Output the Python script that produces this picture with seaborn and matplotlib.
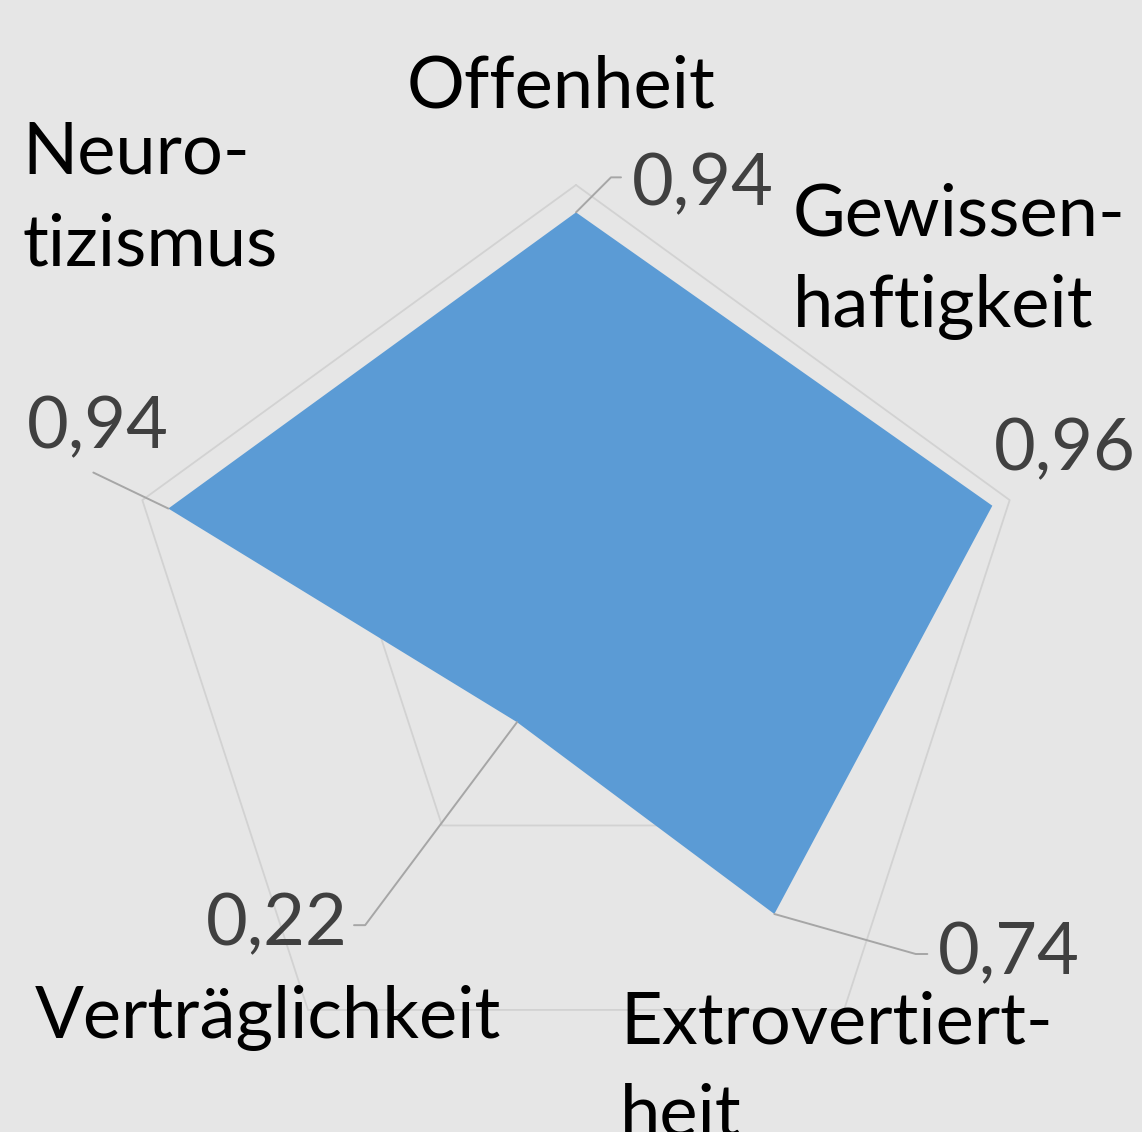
import numpy as np
import matplotlib
matplotlib.use("Agg")
import matplotlib.pyplot as plt
import seaborn as sns

# Daten
categories = ["Offenheit", "Gewissen-\nhaftigkeit", "Extrovertiert-\nheit",
              "Verträglichkeit", "Neuro-\ntizismus"]
values = [0.94, 0.96, 0.74, 0.22, 0.94]
grid_levels = [0.5, 1.0]

BG = "#e6e6e6"
FILL = "#5b9bd5"
GRID = "#d2d2d2"
LEADER = "#a6a6a6"
VALCOL = "#404040"

sns.set_theme(style="white", rc={"figure.facecolor": BG, "axes.facecolor": BG})
plt.rcParams["font.family"] = ["Lato", "DejaVu Sans"]

W, H = 1142, 1132
fig = plt.figure(figsize=(W / 100, H / 100), dpi=100)

# Achse: Zentrum (576, 641) px, Radius 456 px
cx, cy, R = 576, 641, 456
ax = fig.add_axes([(cx - R) / W, (H - cy - R) / H, 2 * R / W, 2 * R / H],
                  projection="polar")
ax.set_theta_offset(np.pi / 2)
ax.set_theta_direction(-1)
ax.set_ylim(0, 1)
ax.grid(False)
ax.spines["polar"].set_visible(False)
ax.set_xticks([])
ax.set_yticks([])
ax.patch.set_alpha(0)

n = len(values)
theta = np.linspace(0, 2 * np.pi, n, endpoint=False)
theta_c = np.append(theta, theta[0])

# Fünfeck-Gitter
for lvl in grid_levels:
    ax.plot(theta_c, [lvl] * (n + 1), color=GRID, lw=1.3, clip_on=False, zorder=1)

# Datenfläche
ax.fill(theta_c, values + values[:1], color=FILL, lw=0, zorder=2)

# Datenbeschriftungen (Text-Position in px, Ende der Führungslinie als Offset in px, Winkel)
fs = 52
val_text_px = [(703, 185), (1065, 450), (1009, 954), (277, 925), (98, 428)]
leader_end = [(45, 35), None, (153, -40), (-163, -203), (-75, 36)]
leader_ang = [45, None, -15.8, 53.2, None]

for i, v in enumerate(values):
    label = f"{v:.2f}".replace(".", ",")
    tx, ty = val_text_px[i]
    fig.text(tx / W, 1 - ty / H, label, ha="center", va="center",
             fontsize=fs, color=VALCOL)
    if leader_end[i] is not None:
        if leader_ang[i] is None:
            cs = "arc3"
        else:
            cs = f"angle,angleA=0,angleB={leader_ang[i]},rad=0"
        ax.annotate("", xy=(theta[i], v), xytext=leader_end[i],
                    textcoords="offset pixels",
                    arrowprops=dict(arrowstyle="-", color=LEADER, lw=1.4,
                                    shrinkA=0, shrinkB=0, patchA=None,
                                    connectionstyle=cs),
                    annotation_clip=False, zorder=3)

# Kategorienbeschriftungen (linke Kante / Grundlinie der letzten Zeile in px)
cat_pos = [(561, 107, "center"), (793, 327, "left"), (620, 1135, "left"),
           (35, 1038, "left"), (22, 265, "left")]
for name, (x, y, ha) in zip(categories, cat_pos):
    fig.text(x / W, 1 - y / H, name, ha=ha, va="baseline", fontsize=fs,
             color="black", linespacing=1.5)

plt.savefig("out.png", dpi=100, facecolor=BG)
